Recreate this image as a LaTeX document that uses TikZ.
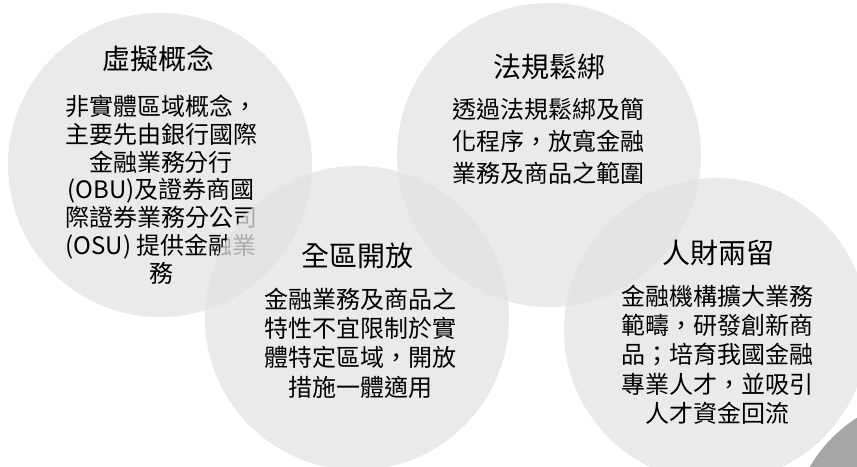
\documentclass[tikz,border=0pt]{standalone}
\usepackage{fontspec}
\newfontfamily\cjk{Noto Sans CJK TC}
\begin{document}
\begin{tikzpicture}[x=1pt,y=-1pt,
  bubble/.style={circle, minimum size=304pt, inner sep=0pt, fill=black!11, fill opacity=0.75, draw=none},
  darkbubble/.style={circle, minimum size=290pt, inner sep=0pt, fill=black!35, draw=none},
  ttl/.style={inner sep=0pt, text=black, font=\cjk\fontsize{28}{32}\selectfont},
  bodytext/.style={inner sep=0pt, text=black, align=center}
]
\fill[white] (0,0) rectangle (857,466);
\useasboundingbox (0,0) rectangle (857,466);
\begin{scope}
\clip (0,0) rectangle (857,466);
\node[darkbubble] (c5) at (935,540) {};
\node[bubble] (c1) at (160,165) {};
\node[ttl] (t1) at (158,59) {虛擬概念};
\node[bodytext, font=\cjk\fontsize{24}{27.8}\selectfont] (b1) at (161,189.5)
  {非實體區域概念，\\主要先由銀行國際\\金融業務分行\\(OBU)及證券商國\\際證券業務分公司\\(OSU) 提供金融業\\務};
\node[bubble] (c2) at (549,155) {};
\node[ttl] (t2) at (549,67) {法規鬆綁};
\node[bodytext, font=\cjk\fontsize{24}{32}\selectfont] (b2) at (548,141)
  {透過法規鬆綁及簡\\化程序，放寬金融\\業務及商品之範圍};
\node[bubble] (c3) at (357,318) {};
\node[ttl] (t3) at (357,256) {全區開放};
\node[bodytext, font=\cjk\fontsize{24}{29.3}\selectfont] (b3) at (360,343)
  {金融業務及商品之\\特性不宜限制於實\\體特定區域，開放\\措施一體適用};
\node[bubble] (c4) at (716,330) {};
\node[ttl] (t4) at (718,253) {人財兩留};
\node[bodytext, font=\cjk\fontsize{24}{29.3}\selectfont] (b4) at (717,354.5)
  {金融機構擴大業務\\範疇，研發創新商\\品；培育我國金融\\專業人才，並吸引\\人才資金回流};
\end{scope}
\end{tikzpicture}
\end{document}
